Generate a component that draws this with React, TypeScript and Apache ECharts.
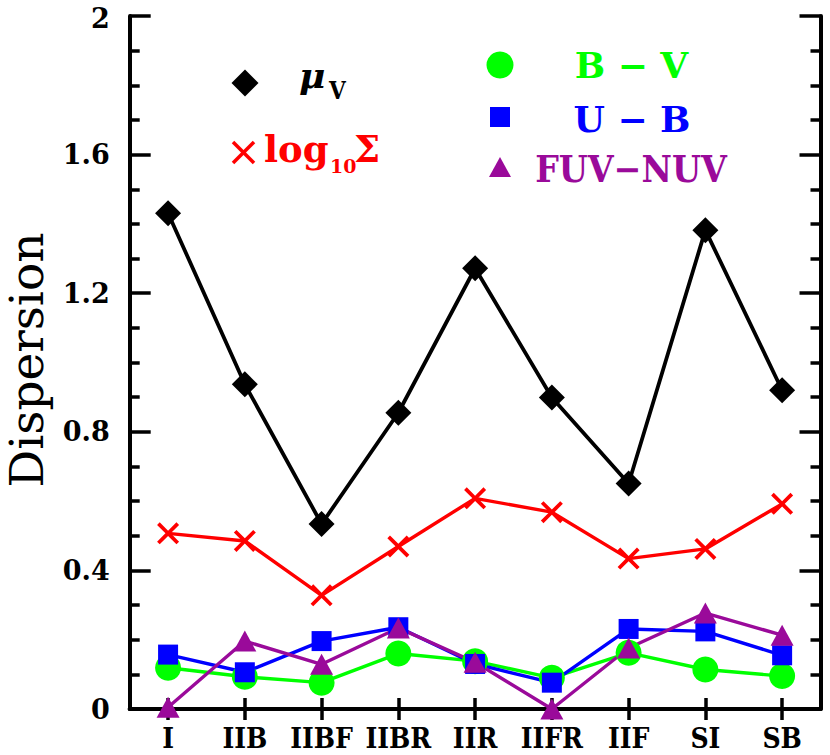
import React, { useEffect, useRef } from "react";
import * as echarts from "echarts";

const categories = ["I", "IIB", "IIBF", "IIBR", "IIR", "IIFR", "IIF", "SI", "SB"];
const muV = [1.431, 0.937, 0.534, 0.855, 1.272, 0.899, 0.651, 1.382, 0.92];
const logSigma = [0.507, 0.485, 0.328, 0.469, 0.608, 0.568, 0.434, 0.462, 0.592];
const bMinusV = [0.119, 0.093, 0.076, 0.16, 0.138, 0.09, 0.162, 0.114, 0.095];
const uMinusB = [0.157, 0.106, 0.196, 0.236, 0.13, 0.076, 0.231, 0.224, 0.155];
const fuvMinusNuv = [0.005, 0.196, 0.129, 0.234, 0.135, 0.0, 0.176, 0.277, 0.213];
const yMin = 0;
const yMax = 2;
const yStep = 0.4;

const COND = "'DejaVu Serif Condensed', 'DejaVu Serif', serif";
const SERIF = "'DejaVu Serif', serif";
const BLACK = "#000000";
const RED = "#ff0000";
const GREEN = "#00ff00";
const BLUE = "#0000ff";
const PURPLE = "#9a0a9a";
const CROSS = "path://M0,12L12,0L50,38L88,0L100,12L62,50L100,88L88,100L50,62L12,100L0,88L38,50Z";

function xAxisDef(pos: "bottom" | "top") {
  return {
    type: "category",
    data: categories,
    position: pos,
    boundaryGap: true,
    axisLine: { show: true, lineStyle: { color: BLACK, width: 4 } },
    axisTick: { show: true, inside: true, length: 11, alignWithLabel: true, interval: 0, lineStyle: { color: BLACK, width: 3.5 } },
    axisLabel: {
      show: pos === "bottom",
      interval: 0,
      color: BLACK,
      fontFamily: COND,
      fontWeight: "bold",
      fontSize: 28,
      lineHeight: 22,
      margin: 18,
    },
    splitLine: { show: false },
  };
}

function yAxisDef(pos: "left" | "right") {
  return {
    type: "value",
    position: pos,
    min: yMin,
    max: yMax,
    interval: yStep,
    axisLine: { show: true, lineStyle: { color: BLACK, width: 4 } },
    axisTick: { show: true, inside: true, length: 21, lineStyle: { color: BLACK, width: 3.5 } },
    minorTick: { show: true, splitNumber: 4, length: 10, lineStyle: { color: BLACK, width: 3.5 } },
    axisLabel: {
      show: pos === "left",
      color: BLACK,
      fontFamily: SERIF,
      fontWeight: "bold",
      fontSize: 27,
      lineHeight: 22,
      margin: 20,
      formatter: (v: number) => (v === yMax ? "{top|" + v + "}" : String(v)),
      rich: {
        top: { fontFamily: SERIF, fontWeight: "bold", fontSize: 27, lineHeight: 22, padding: [5, 0, 0, 0], color: BLACK },
      },
    },
    splitLine: { show: false },
    minorSplitLine: { show: false },
  };
}

function lineSeries(name: string, data: number[], color: string, symbol: string, size: any, width: number) {
  return {
    name,
    type: "line",
    data,
    xAxisIndex: 0,
    yAxisIndex: 0,
    symbol,
    symbolSize: size,
    showAllSymbol: true,
    lineStyle: { color, width },
    itemStyle: { color, borderWidth: 0 },
    emphasis: { disabled: true },
  };
}

export default function App() {
  const ref = useRef<HTMLDivElement>(null);
  useEffect(() => {
    if (!ref.current) return;
    const chart = echarts.init(ref.current, undefined, { renderer: "svg" });
    const legendFont = (size: number, color: string, style = "normal", family = SERIF) => ({
      fontFamily: family,
      fontWeight: "bold",
      fontStyle: style,
      fontSize: size,
      fill: color,
    });
    chart.setOption({
      animation: false,
      backgroundColor: "#ffffff",
      grid: { left: 129.7, right: 9.5, top: 13.7, bottom: 46, containLabel: false },
      xAxis: [xAxisDef("bottom"), xAxisDef("top")],
      yAxis: [yAxisDef("left"), yAxisDef("right")],
      series: [
        lineSeries("μV", muV, BLACK, "diamond", 26, 3.8),
        lineSeries("log10Σ", logSigma, RED, CROSS, 22, 3.4),
        lineSeries("B − V", bMinusV, GREEN, "circle", 26, 3.4),
        lineSeries("U − B", uMinusB, BLUE, "rect", 20, 3.4),
        lineSeries("FUV−NUV", fuvMinusNuv, PURPLE, "triangle", [23, 21], 3.4),
      ],
      graphic: [
        {
          type: "text",
          x: 26,
          y: 360,
          rotation: Math.PI / 2,
          style: {
            text: "Dispersion",
            fontFamily: SERIF,
            fontSize: 47,
            lineHeight: 40,
            fill: BLACK,
            align: "center",
            verticalAlign: "middle",
          },
        },
        // left legend
        {
          type: "polygon",
          shape: { points: [[245, 69.5], [258.5, 83], [245, 96.5], [231.5, 83]] },
          style: { fill: BLACK },
        },
        { type: "text", x: 299, y: 75, style: { text: "μ", ...legendFont(36, BLACK, "italic"), align: "left", verticalAlign: "middle" } },
        { type: "text", x: 329, y: 90, style: { text: "V", ...legendFont(24, BLACK, "normal", COND), align: "left", verticalAlign: "middle" } },
        { type: "line", shape: { x1: 233, y1: 142, x2: 254, y2: 163 }, style: { stroke: RED, lineWidth: 3.5 } },
        { type: "line", shape: { x1: 254, y1: 142, x2: 233, y2: 163 }, style: { stroke: RED, lineWidth: 3.5 } },
        { type: "text", x: 264, y: 149, style: { text: "log", ...legendFont(37, RED), align: "left", verticalAlign: "middle" } },
        { type: "text", x: 330, y: 166, style: { text: "10", ...legendFont(19, RED), align: "left", verticalAlign: "middle" } },
        { type: "text", x: 354, y: 149, style: { text: "Σ", ...legendFont(37, RED), align: "left", verticalAlign: "middle" } },
        // right legend
        { type: "circle", shape: { cx: 500, cy: 65, r: 13.5 }, style: { fill: GREEN } },
        { type: "text", x: 631.5, y: 65, style: { text: "B − V", ...legendFont(36, GREEN), align: "center", verticalAlign: "middle" } },
        { type: "rect", shape: { x: 490, y: 107, width: 20, height: 20 }, style: { fill: BLUE } },
        { type: "text", x: 632, y: 119, style: { text: "U − B", ...legendFont(36, BLUE), align: "center", verticalAlign: "middle" } },
        { type: "polygon", shape: { points: [[500, 157], [511, 177], [489, 177]] }, style: { fill: PURPLE } },
        { type: "text", x: 631, y: 169, style: { text: "FUV−NUV", ...legendFont(37, PURPLE, "normal", COND), align: "center", verticalAlign: "middle" } },
      ],
    });
    return () => chart.dispose();
  }, []);
  return (
    <div
      ref={ref}
      style={{ position: "fixed", left: 0, top: 0, width: 830, height: 755, background: "#fff" }}
    />
  );
}
